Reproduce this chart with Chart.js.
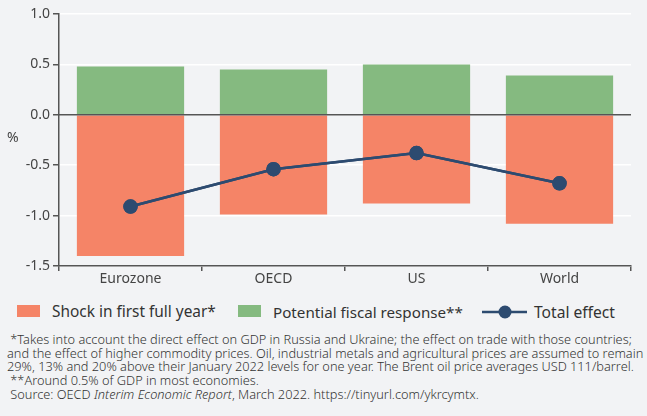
<!DOCTYPE html>
<html>
<head>
<meta charset="utf-8">
<script src="https://cdn.jsdelivr.net/npm/chart.js@4"></script>
<style>
  html, body { margin: 0; padding: 0; background: #f2f3f5; }
  body { width: 647px; height: 416px; overflow: hidden; font-family: "Noto Sans", Roboto, sans-serif; position: relative; }
  #wrap { position: relative; width: 647px; height: 295px; }
  .box { position: absolute; top: 305px; width: 23px; height: 12px; }
  .txt { position: absolute; top: 301px; height: 22px; line-height: 22px; font-size: 15px; color: #333; white-space: nowrap; }
  #linhaLeg { position: absolute; left: 482px; top: 304px; }
  #notes { position: absolute; left: 7px; top: 333px; font-size: 11.5px; line-height: 13.7px; color: #333; white-space: nowrap; font-weight: 300; }
</style>
</head>
<body>
<div id="wrap"><canvas id="grafico" width="647" height="295"></canvas></div>
<span class="box" style="left:17px; background:#f58467"></span>
<span class="txt" style="left:52px" data-w="164">Shock in first full year*</span>
<span class="box" style="left:238px; background:#85ba80"></span>
<span class="txt" style="left:273px" data-w="190">Potential fiscal response**</span>
<svg id="linhaLeg" width="45" height="16"><line x1="0" y1="8" x2="45" y2="8" stroke="#2d4b70" stroke-width="2.5"/><circle cx="23" cy="8" r="6.5" fill="#2d4b70"/></svg>
<span class="txt" style="left:534px" data-w="81">Total effect</span>
<div id="notes">
  &nbsp;*Takes into account the direct effect on GDP in Russia and Ukraine; the effect on trade with those countries;<br>
  <span id="linha2">and the effect of higher commodity prices. Oil, industrial metals and agricultural prices are assumed to remain</span><br>
  29%, 13% and 20% above their January 2022 levels for one year. The Brent oil price averages USD 111/barrel.<br>
  &nbsp;**Around 0.5% of GDP in most economies.<br>
  &nbsp;Source: OECD <i>Interim Economic Report</i>, March 2022. https://tinyurl.com/ykrcymtx.
</div>
<script>
// dados
const regioes = ['Eurozone', 'OECD', 'US', 'World'];
const choque = [-1.40, -0.99, -0.88, -1.08];
const respostaFiscal = [0.48, 0.45, 0.50, 0.39];
const efeitoTotal = [-0.91, -0.54, -0.38, -0.68];

const corTexto = '#444';
const corEixo = '#555';
const fonte = { family: '"Noto Sans", Roboto, sans-serif', size: 14 };

// ajusta o tamanho das letras para a largura do original
function ajustar(el, largura) {
    const s = parseFloat(getComputedStyle(el).fontSize);
    const w = el.getBoundingClientRect().width;
    return s * largura / w;
}
document.querySelectorAll('.txt').forEach(el => {
    el.style.fontSize = ajustar(el, parseFloat(el.dataset.w)) + 'px';
});
const notas = document.getElementById('notes');
notas.style.fontSize = ajustar(document.getElementById('linha2'), 637) + 'px';

// linha do zero e o "%" do eixo
const extras = {
    id: 'extras',
    afterDatasetsDraw(chart) {
        const { ctx, chartArea, scales } = chart;
        const y0 = scales.y.getPixelForValue(0);
        ctx.save();
        ctx.strokeStyle = corEixo;
        ctx.lineWidth = 1.5;
        ctx.beginPath();
        ctx.moveTo(chartArea.left, y0);
        ctx.lineTo(chartArea.right, y0);
        ctx.stroke();
        // redesenha a linha do total por cima da linha do zero
        chart.getDatasetMeta(2).controller.draw();
        ctx.fillStyle = corTexto;
        ctx.font = '14px ' + fonte.family;
        ctx.textBaseline = 'middle';
        ctx.fillText('%', 7, scales.y.getPixelForValue(-0.23));
        ctx.restore();
    }
};

new Chart(document.getElementById('grafico').getContext('2d'), {
    data: {
        labels: regioes,
        datasets: [
            {
                type: 'bar',
                label: 'Shock in first full year*',
                data: choque,
                backgroundColor: '#f58467',
                borderWidth: 0,
                order: 2
            },
            {
                type: 'bar',
                label: 'Potential fiscal response**',
                data: respostaFiscal,
                backgroundColor: '#85ba80',
                borderWidth: 0,
                order: 2
            },
            {
                type: 'line',
                label: 'Total effect',
                data: efeitoTotal,
                borderColor: '#2d4b70',
                backgroundColor: '#2d4b70',
                borderWidth: 2.5,
                pointRadius: 6,
                pointHoverRadius: 6,
                order: 1
            }
        ]
    },
    options: {
        responsive: false,
        animation: false,
        events: [],
        datasets: { bar: { barPercentage: 0.75, categoryPercentage: 1 } },
        layout: { padding: { left: 0, right: 16, top: 14, bottom: 0 } },
        plugins: { legend: { display: false }, tooltip: { enabled: false } },
        scales: {
            x: {
                stacked: true,
                offset: true,
                grid: { offset: true, drawOnChartArea: false, color: corEixo, tickLength: 5, lineWidth: 1.5 },
                border: { color: corEixo, width: 1.5 },
                ticks: { color: corTexto, font: fonte, padding: 0 },
                afterFit(scale) { scale.height = 29; }
            },
            y: {
                min: -1.5,
                max: 1.0,
                ticks: {
                    stepSize: 0.5,
                    color: corTexto,
                    font: fonte,
                    padding: 3,
                    callback: v => v.toFixed(1)
                },
                grid: { color: '#ffffff', lineWidth: 1.5, tickColor: corEixo, tickLength: 6, tickWidth: 1.5 },
                border: { color: corEixo, width: 1.5 },
                afterFit(scale) { scale.width = 59; }
            }
        }
    },
    plugins: [extras]
});
</script>
</body>
</html>
